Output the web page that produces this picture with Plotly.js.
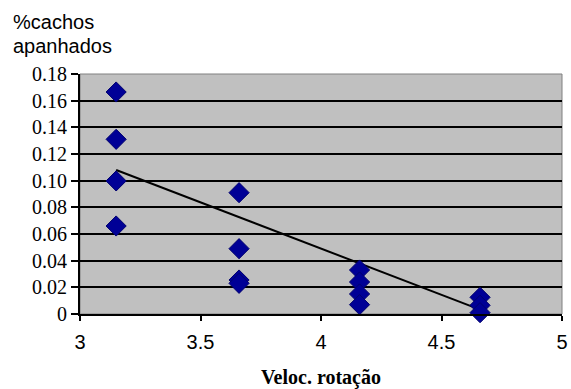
<!DOCTYPE html>
<html>
<head>
<meta charset="utf-8">
<script src="https://cdn.plot.ly/plotly-3.0.1.min.js"></script>
<style>
  html, body { margin: 0; padding: 0; background: #fff; }
  #chart { width: 571px; height: 389px; }
</style>
</head>
<body>
<div id="chart"></div>
<script>
// Rotation speed of each harvesting run
const velocidade = [
  3.15, 3.15, 3.15, 3.15,
  3.66, 3.66, 3.66, 3.66,
  4.16, 4.16, 4.16, 4.16,
  4.66, 4.66, 4.66
];
// Fraction of bunches picked up at each run
const cachos = [
  0.1665, 0.131, 0.0998, 0.066,
  0.091, 0.049, 0.0255, 0.023,
  0.033, 0.024, 0.015, 0.007,
  0.0125, 0.0065, 0.001
];
// Linear trend line end points
const tendenciaX = [3.15, 4.66];
const tendenciaY = [0.108, 0.0033];

// Axis ticks
const xTicks = [3, 3.5, 4, 4.5, 5];
const yTicks = [0, 0.02, 0.04, 0.06, 0.08, 0.10, 0.12, 0.14, 0.16, 0.18];
const yTickText = ['0', '0.02', '0.04', '0.06', '0.08', '0.10', '0.12', '0.14', '0.16', '0.18'];

// Y axis title, one line per entry
const yTitleLines = ['%cachos', 'apanhados'];

const SANS = 'Liberation Sans, Arial, sans-serif';
const SERIF = 'Liberation Serif, Times New Roman, serif';

const pontos = {
  x: velocidade,
  y: cachos,
  type: 'scatter',
  mode: 'markers',
  marker: {
    symbol: 'diamond',
    size: 15.5,
    color: '#000096',
    line: { color: '#00006e', width: 1 }
  },
  cliponaxis: false,
  hoverinfo: 'x+y'
};

const tendencia = {
  x: tendenciaX,
  y: tendenciaY,
  type: 'scatter',
  mode: 'lines',
  line: { color: '#000000', width: 2 },
  hoverinfo: 'skip'
};

// Plot area spans pixels 74..314 vertically, 80..562 horizontally
const plotTop = 74, plotH = 240, plotL = 80, plotW = 482;
const toPaperY = p => (plotTop + plotH - p) / plotH;
const toPaperX = p => (p - plotL) / plotW;

const annotations = yTitleLines.map((t, i) => ({
  text: t,
  xref: 'paper', yref: 'paper',
  x: toPaperX(11), xanchor: 'left',
  y: toPaperY(22 + i * 24), yanchor: 'middle',
  showarrow: false,
  align: 'left',
  font: { family: SANS, size: 20, color: '#000' }
}));

const layout = {
  width: 571,
  height: 389,
  margin: { l: plotL, r: 571 - plotL - plotW, t: plotTop, b: 389 - plotTop - plotH },
  paper_bgcolor: '#ffffff',
  plot_bgcolor: '#c0c0c0',
  showlegend: false,
  annotations: annotations,
  xaxis: {
    range: [3, 5],
    tickvals: xTicks,
    ticktext: xTicks.map(String),
    ticks: 'outside', ticklen: 5, tickwidth: 2, tickcolor: '#000',
    ticklabelstandoff: 4,
    showline: true, linecolor: '#000', linewidth: 2,
    showgrid: false, zeroline: false,
    tickfont: { family: SANS, size: 20, color: '#000' },
    title: {
      text: '<b>Veloc. rotação</b>',
      font: { family: SERIF, size: 20, color: '#000' },
      standoff: 19
    }
  },
  yaxis: {
    range: [0, 0.18],
    tickvals: yTicks,
    ticktext: yTickText,
    ticks: 'outside', ticklen: 7, tickwidth: 2, tickcolor: '#000',
    showline: true, linecolor: '#000', linewidth: 2,
    showgrid: true, gridcolor: '#000', gridwidth: 2,
    zeroline: false,
    tickfont: { family: SERIF, size: 20, color: '#000' }
  },
  shapes: [{
    type: 'rect', xref: 'paper', yref: 'paper',
    x0: 0, x1: 1, y0: 0, y1: 1,
    line: { color: '#808080', width: 1 },
    layer: 'below'
  }]
};

Plotly.newPlot('chart', [tendencia, pontos], layout, { displayModeBar: false, staticPlot: true });
</script>
</body>
</html>
